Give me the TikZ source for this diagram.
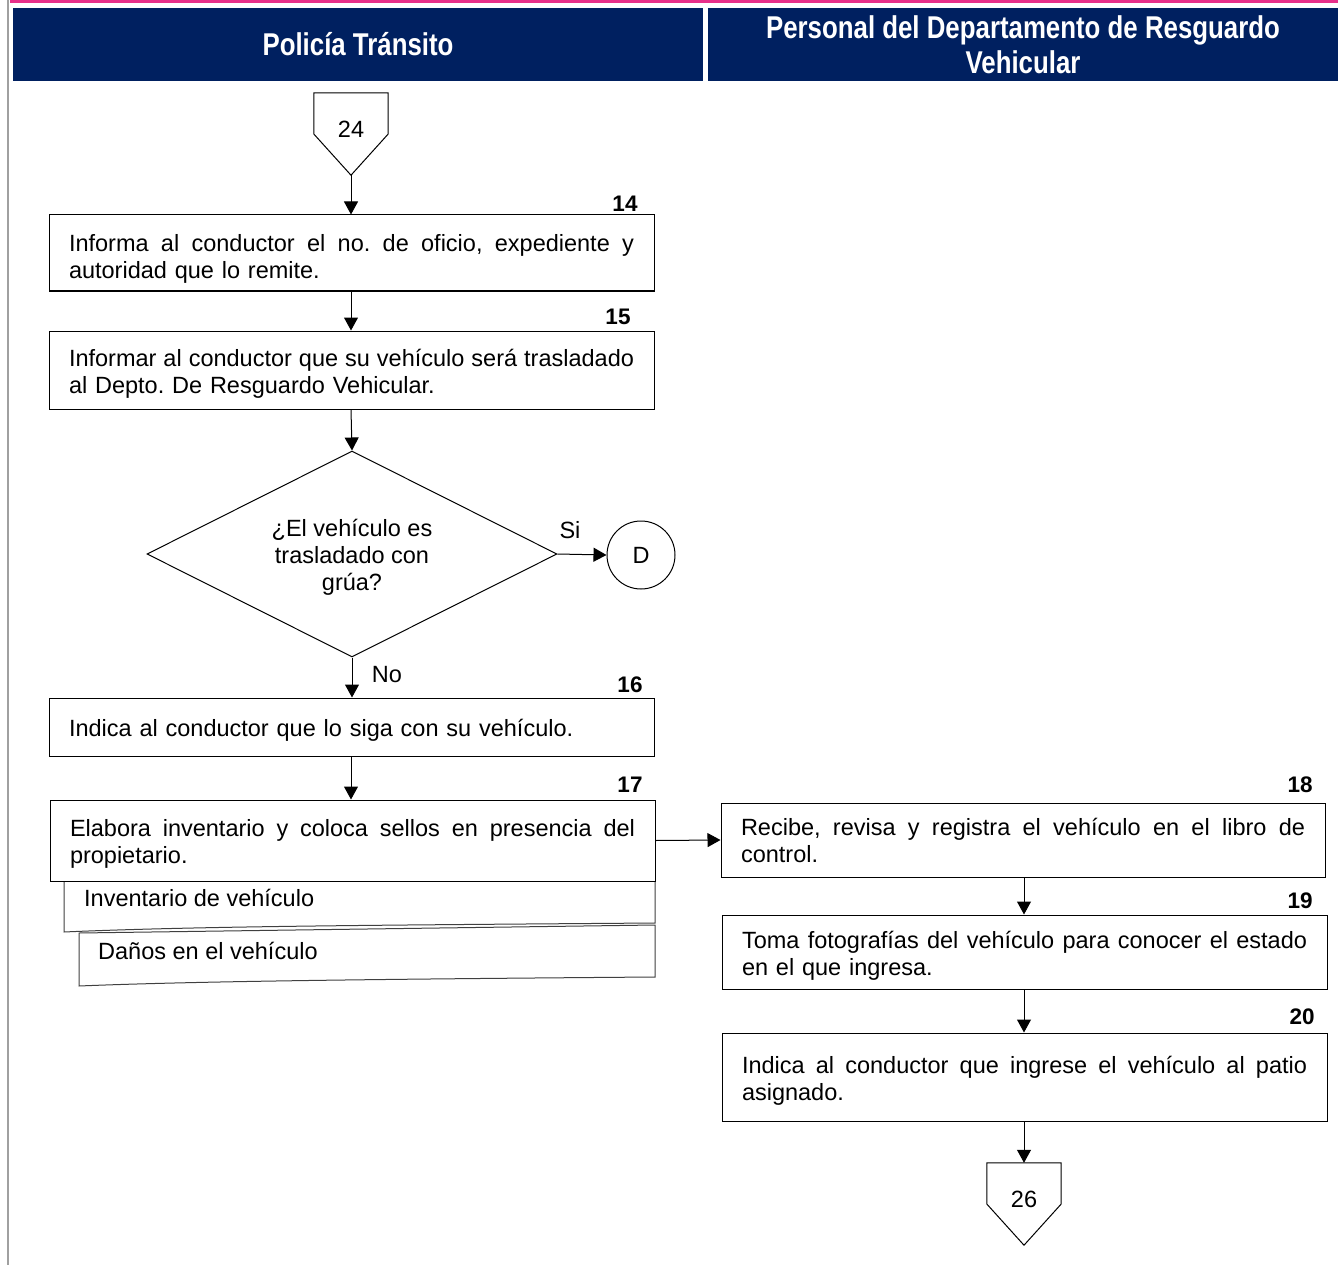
\documentclass[tikz,border=0pt]{standalone}
\usepackage{fontspec}
\setmainfont{Liberation Sans}
\newfontfamily\hdrfont[FakeStretch=0.82]{Liberation Sans}
\usetikzlibrary{arrows.meta,shapes.geometric,calc}
\definecolor{navy}{RGB}{0,32,96}
\definecolor{topline}{RGB}{232,48,138}
\definecolor{sidegray}{RGB}{160,160,160}
\frenchspacing
% a full-width justified line inside a step box
\newcommand\jline[1]{\leavevmode\hbox to\hsize{\spaceskip=.278em plus 2em\xspaceskip=\spaceskip #1}}
\begin{document}
\begin{tikzpicture}[x=1pt,y=-1pt,
  txt/.style={font=\fontsize{23.5}{27}\selectfont},
  stepbox/.style={draw, line width=1pt, fill=white, inner xsep=20pt, inner ysep=0pt,
    text width=565pt, align=left, txt,
    execute at begin node={\rule{0pt}{#1}},
    execute at end node={\rule[-7pt]{0pt}{7pt}}},
  stepbox/.default=24pt,
  numlbl/.style={font=\fontsize{22.5}{26}\selectfont\bfseries, inner sep=0pt},
  hdr/.style={fill=navy, text=white, inner sep=0pt, align=center,
    font=\hdrfont\bfseries\fontsize{31.5}{35}\selectfont},
  arr/.style={line width=1pt, -{Triangle[length=13pt,width=14pt]}},
  docshape/.style={draw=black!75, line width=1pt, fill=white},
  offpage/.style={draw=none, minimum width=74pt, minimum height=82pt, inner sep=0pt, txt}
]
\useasboundingbox (0,0) rectangle (1338,1265);

% frame lines
\draw[sidegray, line width=2pt] (8,0) -- (8,1265);
\draw[topline, line width=3pt] (10,1.5) -- (1338,1.5);

% lane headers
\node[hdr, minimum width=690pt, minimum height=73pt] (hleft) at (358,44.5) {Policía Tránsito};
\node[hdr, minimum width=630pt, minimum height=73pt] (hright) at (1023,44.5)
  {Personal del Departamento de Resguardo\\Vehicular};

% off-page connector 24
\node[offpage] (c24) at (351,134) {\raisebox{10pt}{24}};
\draw[line width=1pt] (c24.north west) -- (c24.north east) -- (c24.east) -- (c24.south) -- (c24.west) -- cycle;

% step 14
\node[stepbox=32pt, minimum height=76pt] (b14) at (351.5,253)
  {\jline{Informa al conductor el no. de oficio, expediente y}\\autoridad que lo remite.};
\node[numlbl] (n14) at (625,204) {14};

% step 15
\node[stepbox=26pt, minimum height=78pt] (b15) at (351.5,370)
  {\jline{Informar al conductor que su vehículo será trasladado}\\al Depto. De Resguardo Vehicular.};
\node[numlbl] (n15) at (618,317) {15};

% decision
\node[diamond, draw, line width=1pt, aspect=2, minimum width=410pt, minimum height=206pt,
  inner sep=0pt] (dec) at (352,554) {};
\node[align=center, txt, inner sep=0pt] (dectxt) at (352,557) {¿El vehículo es\\trasladado con\\grúa?};
\node[draw, circle, line width=1pt, minimum size=68pt, inner sep=0pt, txt] (conD) at (641,555) {D};
\node[txt, inner sep=0pt] (lsi) at (570,530) {Si};
\node[txt, inner sep=0pt] (lno) at (387,675) {No};

% step 16
\node[stepbox=25pt, minimum height=58pt] (b16) at (351.5,727)
  {Indica al conductor que lo siga con su vehículo.};
\node[numlbl] (n16) at (630,685) {16};

% documents attached to step 17
\draw[docshape] (79,933) -- (655,925) -- (655,977)
  .. controls (400,979) and (200,981) .. (79,986) -- cycle;
\draw[docshape] (64,881) -- (655,881) -- (655,923)
  .. controls (400,925) and (200,926) .. (64,932) -- cycle;
\node[txt, anchor=west, inner sep=0pt] (doc1) at (84,898) {Inventario de vehículo};
\node[txt, anchor=west, inner sep=0pt] (doc2) at (98,951) {Daños en el vehículo};

% step 17
\node[stepbox=25pt, minimum height=81pt] (b17) at (352.5,840.5)
  {\jline{Elabora inventario y coloca sellos en presencia del}\\propietario.};
\node[numlbl] (n17) at (630,785) {17};

% step 18
\node[stepbox=24pt, minimum height=74pt, text width=564pt] (b18) at (1023,840)
  {\jline{Recibe, revisa y registra el vehículo en el libro de}\\control.};
\node[numlbl] (n18) at (1300,785) {18};

% step 19
\node[stepbox=26pt, minimum height=74pt] (b19) at (1024.5,952)
  {\jline{Toma fotografías del vehículo para conocer el estado}\\en el que ingresa.};
\node[numlbl] (n19) at (1300,901) {19};

% step 20
\node[stepbox=26pt, minimum height=88pt] (b20) at (1024.5,1077)
  {\jline{Indica al conductor que ingrese el vehículo al patio}\\asignado.};
\node[numlbl] (n20) at (1302,1017) {20};

% off-page connector 26
\node[offpage] (c26) at (1024,1204) {\raisebox{10pt}{26}};
\draw[line width=1pt] (c26.north west) -- (c26.north east) -- (c26.east) -- (c26.south) -- (c26.west) -- cycle;

% connectors
\draw[arr] (c24.south) -- (c24.south |- b14.north);
\draw[arr] (b14.south -| c24.south) -- (c24.south |- b15.north);
\draw[arr] (b15.south -| c24.south) -- (dec.north);
\draw[arr] (dec.east) -- (conD.west);
\draw[arr] (dec.south) -- (dec.south |- b16.north);
\draw[arr] (b16.south -| c24.south) -- (c24.south |- b17.north);
\draw[arr] (b17.east) -- (b18.west);
\draw[arr] (b18.south -| c26.north) -- (c26.north |- b19.north);
\draw[arr] (b19.south -| c26.north) -- (c26.north |- b20.north);
\draw[arr] (b20.south -| c26.north) -- (c26.north);
\end{tikzpicture}
\end{document}
